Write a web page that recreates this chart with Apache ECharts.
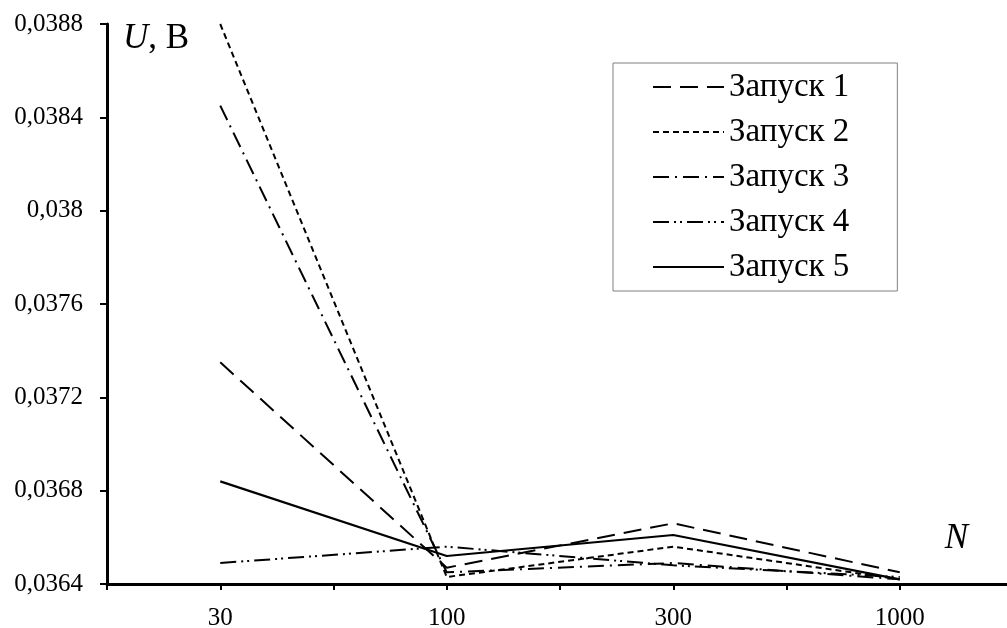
<!DOCTYPE html>
<html>
<head>
<meta charset="utf-8">
<title>U(N)</title>
<script src="https://cdn.jsdelivr.net/npm/echarts@6/dist/echarts.min.js"></script>
<style>
  html, body { margin: 0; padding: 0; background: #fff; }
  #chart { width: 1007px; height: 628px; }
</style>
</head>
<body>
<div id="chart"></div>
<script>
// N values (x axis categories)
let categories = ['30', '100', '300', '1000'];
// U, V for every run
let run1 = [0.03735, 0.03647, 0.03666, 0.03645];
let run2 = [0.0388, 0.03643, 0.03656, 0.03642];
let run3 = [0.03845, 0.03645, 0.03649, 0.03642];
let run4 = [0.03649, 0.03656, 0.03648, 0.03643];
let run5 = [0.03684, 0.03652, 0.03661, 0.03642];
let runNames = ['Запуск 1', 'Запуск 2', 'Запуск 3', 'Запуск 4', 'Запуск 5'];
let yMin = 0.0364, yMax = 0.0388, yStep = 0.0004;

let font = 'Liberation Serif';

function runSeries(name, data, dash, width) {
    return {
        name: name,
        type: 'line',
        data: data,
        symbol: 'none',
        xAxisIndex: 0,
        itemStyle: { color: '#000' },
        lineStyle: { color: '#000', width: width, type: dash }
    };
}

let option = {
    animation: false,
    backgroundColor: '#fff',
    grid: { left: 107, top: 24, width: 906, height: 560, outerBoundsMode: 'none' },
    legend: {
        data: runNames,
        orient: 'vertical',
        left: 613,
        top: 63,
        padding: [7, 48, 7, 39],
        itemGap: 11,
        itemWidth: 71,
        itemHeight: 14,
        borderColor: '#808080',
        borderWidth: 1,
        selectedMode: false,
        itemStyle: { opacity: 0 },
        textStyle: { fontFamily: font, fontSize: 33, lineHeight: 34, color: '#000' }
    },
    xAxis: [{
        type: 'category',
        data: categories,
        boundaryGap: true,
        position: 'bottom',
        name: 'N',
        nameLocation: 'end',
        nameGap: -45,
        nameTextStyle: {
            fontFamily: font, fontSize: 35, fontStyle: 'italic', color: '#000',
            align: 'right', verticalAlign: 'bottom', padding: [0, 0, 28, 0]
        },
        axisLine: { lineStyle: { color: '#000', width: 3 } },
        axisTick: { show: true, interval: 0, length: 6, lineStyle: { color: '#000', width: 2 } },
        axisLabel: { fontFamily: font, fontSize: 25, color: '#000', margin: 22 },
        splitLine: { show: false }
    }, {
        // extra ticks under each category
        type: 'category',
        data: categories,
        boundaryGap: true,
        position: 'bottom',
        axisLine: { show: false },
        axisTick: { show: true, alignWithLabel: true, interval: 0, length: 6, lineStyle: { color: '#000', width: 2 } },
        axisLabel: { show: false },
        splitLine: { show: false }
    }],
    yAxis: {
        type: 'value',
        min: yMin,
        max: yMax,
        interval: yStep,
        name: '{i|U}, В',
        nameLocation: 'end',
        nameGap: -15,
        nameTextStyle: {
            fontFamily: font, fontSize: 35, color: '#000',
            align: 'left', verticalAlign: 'middle', padding: [0, 0, 0, 16],
            rich: { i: { fontFamily: font, fontSize: 35, fontStyle: 'italic', color: '#000' } }
        },
        axisLine: { show: true, lineStyle: { color: '#000', width: 3 } },
        axisTick: { show: true, length: 7, lineStyle: { color: '#000', width: 2 } },
        axisLabel: {
            fontFamily: font, fontSize: 25, color: '#000', margin: 24,
            formatter: function (v) { return String(+v.toFixed(4)).replace('.', ','); }
        },
        splitLine: { show: false }
    },
    series: [
        runSeries(runNames[0], run1, [18, 9], 2),
        runSeries(runNames[1], run2, [6, 4], 2),
        runSeries(runNames[2], run3, [16, 6, 2, 6], 2),
        runSeries(runNames[3], run4, [16, 5, 2, 4, 2, 5], 2),
        runSeries(runNames[4], run5, 'solid', 2.2)
    ]
};

let myChart = echarts.init(document.getElementById('chart'));
myChart.setOption(option);
</script>
</body>
</html>
